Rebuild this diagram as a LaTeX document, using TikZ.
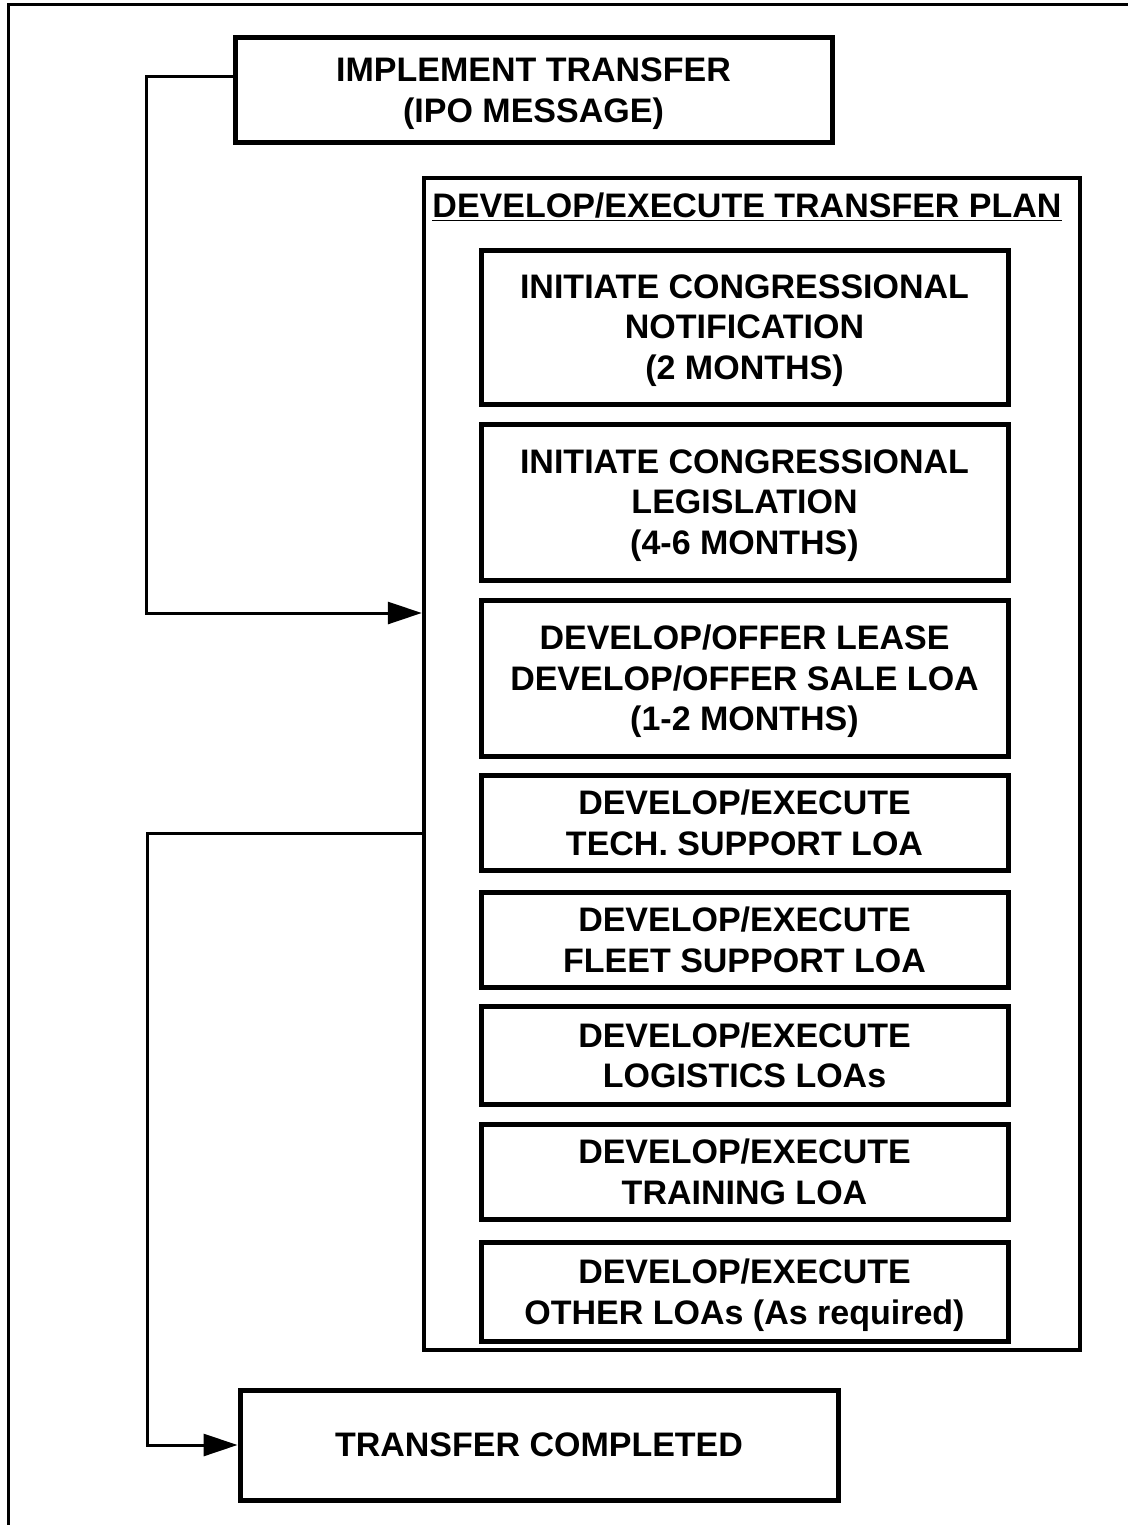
\documentclass[tikz,border=0pt]{standalone}
\usepackage{fontspec}
\setmainfont{Liberation Sans}
\usetikzlibrary{arrows.meta}
\begin{document}
\begin{tikzpicture}[x=1pt,y=-1pt,
  every node/.style={font=\fontsize{34}{40.5}\selectfont\bfseries},
  boxstyle/.style={draw,line width=5pt,align=center,inner sep=0pt,text depth=-6pt},
  stepbox/.style={boxstyle,minimum width=527pt},
  conn/.style={line width=3pt},
  arr/.style={conn,-{Triangle[length=34pt,width=22pt]}}]
\useasboundingbox (0,0) rectangle (1128,1525);
% outer frame (left and top sides)
\draw[line width=3pt] (8,1525) -- (8,5) -- (1128,5);
% top box
\node[boxstyle,minimum width=597pt,minimum height=105pt] (impl) at (533.5,90)
  {IMPLEMENT TRANSFER\\(IPO MESSAGE)};
% container
\node[draw,line width=4.5pt,minimum width=656pt,minimum height=1172pt,inner sep=0pt] (plan) at (752,764) {};
\node (title) at (747,207) {\underline{DEVELOP/EXECUTE TRANSFER PLAN}};
% inner steps
\node[stepbox,minimum height=154pt] (s1) at (744.5,327) {INITIATE CONGRESSIONAL\\NOTIFICATION\\(2 MONTHS)};
\node[stepbox,minimum height=156pt] (s2) at (744.5,502) {INITIATE CONGRESSIONAL\\LEGISLATION\\(4-6 MONTHS)};
\node[stepbox,minimum height=156pt] (s3) at (744.5,678) {DEVELOP/OFFER LEASE\\DEVELOP/OFFER SALE LOA\\(1-2 MONTHS)};
\node[stepbox,minimum height=95pt] (s4) at (744.5,822.5) {DEVELOP/EXECUTE\\TECH. SUPPORT LOA};
\node[stepbox,minimum height=95pt] (s5) at (744.5,939.5) {DEVELOP/EXECUTE\\FLEET SUPPORT LOA};
\node[stepbox,minimum height=98pt] (s6) at (744.5,1055) {DEVELOP/EXECUTE\\LOGISTICS LOAs};
\node[stepbox,minimum height=95pt] (s7) at (744.5,1171.5) {DEVELOP/EXECUTE\\TRAINING LOA};
\node[stepbox,minimum height=99pt] (s8) at (744.5,1291.5) {DEVELOP/EXECUTE\\OTHER LOAs (As required)};
% bottom box
\node[boxstyle,minimum width=598pt,minimum height=110pt] (done) at (539,1445) {TRANSFER COMPLETED};
% connectors
\draw[arr] ([yshift=13pt]impl.west) -- ++(-86,0) |- ([yshift=151pt]plan.west);
\draw[arr] ([yshift=-69pt]plan.west) -- ++(-274,0) |- (done.west);
\end{tikzpicture}
\end{document}
